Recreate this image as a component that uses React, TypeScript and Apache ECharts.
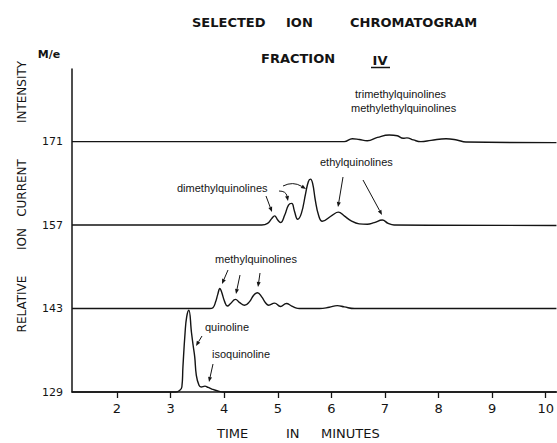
import React, { useEffect, useRef } from 'react';
import * as echarts from 'echarts';

// Time axis (minutes)
const TIME_TICKS = [2, 3, 4, 5, 6, 7, 8, 9, 10];
// m/e channel labels (bottom to top)
const MASS_LABELS = ['129', '143', '157', '171'];

// Each trace: [time (min), relative intensity above its own baseline]
const TRACE_129: [number, number][] = [
  [1.16, 0], [3.1, 0], [3.17, 0.02], [3.21, 0.06], [3.23, 0.3], [3.27, 0.71], [3.3, 0.9],
  [3.34, 0.98], [3.39, 0.71], [3.42, 0.56], [3.45, 0.42], [3.48, 0.2], [3.53, 0.08],
  [3.57, 0.06], [3.64, 0.07], [3.7, 0.055], [3.77, 0.035], [3.88, 0.012], [3.99, 0], [10.2, 0],
];
const TRACE_143: [number, number][] = [
  [1.16, 0], [3.73, 0], [3.79, 0.01], [3.84, 0.08], [3.88, 0.17], [3.92, 0.24], [3.95, 0.2],
  [4.01, 0.08], [4.06, 0.03], [4.12, 0.06], [4.21, 0.11], [4.29, 0.07], [4.38, 0.04],
  [4.47, 0.08], [4.55, 0.16], [4.62, 0.19], [4.7, 0.14], [4.77, 0.07], [4.83, 0.04],
  [4.94, 0.065], [5.05, 0.025], [5.16, 0.06], [5.26, 0.03], [5.35, 0.005], [5.4, 0],
  [5.78, 0], [5.96, 0.015], [6.11, 0.035], [6.24, 0.02], [6.43, 0], [10.2, 0],
];
const TRACE_157: [number, number][] = [
  [1.16, 0], [4.7, 0], [4.81, 0.02], [4.89, 0.08], [4.94, 0.11], [5.0, 0.06], [5.05, 0.03],
  [5.13, 0.12], [5.2, 0.24], [5.26, 0.26], [5.31, 0.17], [5.37, 0.07], [5.44, 0.14],
  [5.52, 0.38], [5.57, 0.52], [5.61, 0.55], [5.65, 0.5], [5.7, 0.3], [5.76, 0.12],
  [5.83, 0.045], [6.02, 0.12], [6.13, 0.155], [6.24, 0.11], [6.37, 0.05],
  [6.52, 0.015], [6.67, 0.01], [6.8, 0.03], [6.95, 0.06], [7.06, 0.02], [7.17, 0], [10.2, -0.005],
];
const TRACE_171: [number, number][] = [
  [1.16, 0], [6.24, 0], [6.39, 0.035], [6.52, 0.025], [6.67, 0.01], [6.86, 0.05], [7.08, 0.08],
  [7.23, 0.07], [7.34, 0.04], [7.41, 0.045], [7.53, 0.02], [7.67, 0], [7.86, 0.015],
  [8.14, 0.035], [8.34, 0.02], [8.51, -0.005], [10.2, -0.012],
];
const TRACES = [TRACE_129, TRACE_143, TRACE_157, TRACE_171];

const INK = '#141414';

function arrow(x1: number, y1: number, x2: number, y2: number, cx?: number, cy?: number) {
  const fx = cx !== undefined ? cx : x1;
  const fy = cy !== undefined ? cy : y1;
  let dx = x2 - fx;
  let dy = y2 - fy;
  const len = Math.sqrt(dx * dx + dy * dy) || 1;
  dx /= len;
  dy /= len;
  const px = -dy;
  const py = dx;
  const bx = x2 - dx * 5;
  const by = y2 - dy * 5;
  const shaft: any =
    cx !== undefined
      ? { type: 'bezierCurve', shape: { x1, y1, x2: bx, y2: by, cpx1: cx, cpy1: cy }, style: { stroke: INK, lineWidth: 1, fill: 'none' } }
      : { type: 'line', shape: { x1, y1, x2: bx, y2: by }, style: { stroke: INK, lineWidth: 1 } };
  return [
    shaft,
    {
      type: 'polygon',
      shape: { points: [[x2, y2], [bx + px * 2, by + py * 2], [bx - px * 2, by - py * 2]] },
      style: { fill: INK },
    },
  ];
}

function txt(text: string, x: number, y: number, font: string, align = 'left', rotation = 0) {
  return {
    type: 'text',
    x,
    y,
    rotation,
    style: {
      text,
      x: 0,
      y: 0,
      font,
      fill: INK,
      align,
      textAlign: align,
      verticalAlign: 'middle',
      textVerticalAlign: 'middle',
    },
  };
}

export default function App() {
  const ref = useRef<HTMLDivElement>(null);
  useEffect(() => {
    if (!ref.current) return;
    const chart = echarts.init(ref.current, undefined, { renderer: 'svg' });
    const title = 'bold 13px "DejaVu Sans", sans-serif';
    const axisT = '12px "DejaVu Sans", sans-serif';
    const note = '11px "Liberation Sans", Arial, sans-serif';
    const graphic: any[] = [
      txt('SELECTED', 192, 22, title),
      txt('ION', 286, 22, title),
      txt('CHROMATOGRAM', 350, 22, title),
      txt('FRACTION', 261, 58, title),
      txt('IV', 380, 60, title, 'center'),
      { type: 'line', shape: { x1: 371, y1: 67.5, x2: 390, y2: 67.5 }, style: { stroke: INK, lineWidth: 1.5 } },
      txt('M/e', 49, 54, 'bold 11px "DejaVu Sans", sans-serif', 'center'),
      txt('INTENSITY', 22, 92, axisT, 'center', Math.PI / 2),
      txt('CURRENT', 22, 188, axisT, 'center', Math.PI / 2),
      txt('ION', 22, 239, axisT, 'center', Math.PI / 2),
      txt('RELATIVE', 22, 304, axisT, 'center', Math.PI / 2),
      txt('TIME', 217, 433, '13px "DejaVu Sans", sans-serif'),
      txt('IN', 286, 433, '13px "DejaVu Sans", sans-serif'),
      txt('MINUTES', 321, 433, '13px "DejaVu Sans", sans-serif'),
      txt('trimethylquinolines', 355, 94, note),
      txt('methylethylquinolines', 351, 108, note),
      txt('ethylquinolines', 320, 162, note),
      txt('dimethylquinolines', 177, 188, note),
      txt('methylquinolines', 215, 259, note),
      txt('quinoline', 205, 327, note),
      txt('isoquinoline', 212, 354, note),
      ...arrow(228, 270, 222, 284),
      ...arrow(240, 275, 236, 294),
      ...arrow(260, 273, 258, 287),
      ...arrow(266, 196, 272, 212),
      ...arrow(279, 191, 288, 201, 286, 191),
      ...arrow(283, 186, 306, 189, 293, 181),
      ...arrow(343, 177, 338, 207),
      ...arrow(363, 180, 382, 215),
      ...arrow(202, 336, 196, 346),
      ...arrow(213, 364, 209, 382),
    ];
    chart.setOption({
      animation: false,
      backgroundColor: '#ffffff',
      grid: { left: 72, right: 0, top: 69, bottom: 51, containLabel: false },
      xAxis: {
        type: 'value',
        min: 1.16,
        max: 10.2,
        splitNumber: 9,
        axisLine: { show: true, onZero: false, lineStyle: { color: INK, width: 1.5 } },
        axisTick: { show: true, customValues: TIME_TICKS, length: 6, lineStyle: { color: INK, width: 1.3 } },
        axisLabel: {
          customValues: TIME_TICKS,
          margin: 10,
          color: INK,
          fontSize: 13,
          fontFamily: '"DejaVu Sans", sans-serif',
          formatter: (v: number) => String(v),
        },
        splitLine: { show: false },
      },
      yAxis: {
        type: 'value',
        min: 0,
        max: 3.87,
        axisLine: { show: true, onZero: false, lineStyle: { color: INK, width: 1.5 } },
        axisTick: { show: false },
        axisLabel: {
          customValues: [0, 1, 2, 3],
          margin: 9,
          color: INK,
          fontSize: 11,
          fontFamily: '"DejaVu Sans", sans-serif',
          formatter: (v: number) => MASS_LABELS[Math.round(v)] ?? '',
        },
        splitLine: { show: false },
      },
      series: TRACES.map((tr, i) => ({
        type: 'line',
        name: MASS_LABELS[i],
        data: tr.map(([t, v]) => [t, i + v]),
        showSymbol: false,
        smooth: 0.45,
        lineStyle: { color: INK, width: 1.4 },
        clip: false,
      })),
      graphic,
    });
    return () => chart.dispose();
  }, []);
  return (
    <div
      ref={ref}
      style={{ position: 'fixed', left: 0, top: 0, width: 557, height: 443, background: '#fff' }}
    />
  );
}
